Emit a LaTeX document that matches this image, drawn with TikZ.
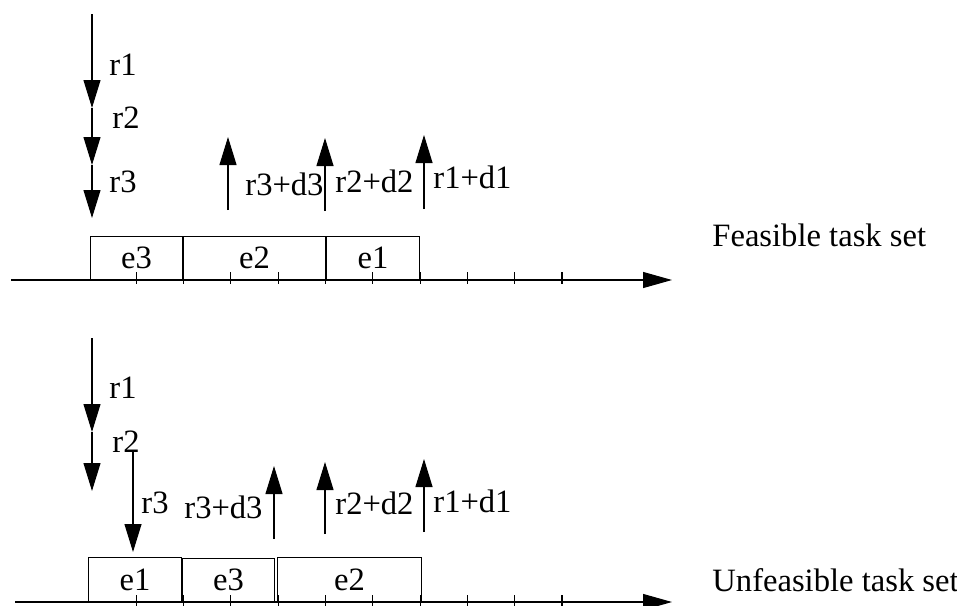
\documentclass[tikz,border=0pt]{standalone}
\usepackage{fontspec}
\setmainfont{Liberation Serif}
\usetikzlibrary{arrows.meta}
\newcommand{\labfont}{\fontsize{16.3}{19}\selectfont}
\begin{document}
\begin{tikzpicture}[x=0.5pt,y=-0.5pt,
  ln/.style={line width=0.55pt},
  tipped/.style={ln,-{Triangle[length=14pt,width=8.5pt]}},
  axisarrow/.style={ln,-{Triangle[length=14.5pt,width=8pt]}},
  taskbox/.style={draw,ln,inner sep=0pt,anchor=south west,font=\labfont,minimum height=21.5pt},
  lbl/.style={inner sep=0pt,anchor=base west,font=\labfont}]
\useasboundingbox (0,0) rectangle (957,605);

% ---------- Feasible ----------
\coordinate (ta0) at (11,280);
\coordinate (ta1) at (672,280);
\draw[axisarrow] (ta0) -- (ta1);
\foreach \k in {1,...,10}{
  \draw[ln] ({89+47.3*\k},272) -- ({89+47.3*\k},284);
}
\node[taskbox,minimum width=46pt] (te3) at (90,280) {e3};
\node[taskbox,minimum width=71pt] (te2) at (183,280) {e2};
\node[taskbox,minimum width=46.5pt] (te1) at (326,280) {e1};

\coordinate (td0) at (92,14);
\coordinate (td1) at (92,108);
\coordinate (td2) at (92,165);
\coordinate (td3) at (92,218);
\draw[tipped] (td0) -- (td1);
\draw[tipped] (td1) -- (td2);
\draw[tipped] (td2) -- (td3);
\node[lbl] (tr1) at (109,75) {r1};
\node[lbl] (tr2) at (112,128) {r2};
\node[lbl] (tr3) at (109,192) {r3};

\coordinate (tu1s) at (228,210); \coordinate (tu1t) at (228,137);
\coordinate (tu2s) at (325,211); \coordinate (tu2t) at (325,138);
\coordinate (tu3s) at (424,209); \coordinate (tu3t) at (424,135);
\draw[tipped] (tu1s) -- (tu1t);
\draw[tipped] (tu2s) -- (tu2t);
\draw[tipped] (tu3s) -- (tu3t);
\node[lbl] (tl3) at (245,195) {r3+d3};
\node[lbl] (tl2) at (335,192) {r2+d2};
\node[lbl] (tl1) at (433,188) {r1+d1};

\node[lbl] (feas) at (712,246) {Feasible task set};

% ---------- Unfeasible ----------
\coordinate (ba0) at (15,602);
\coordinate (ba1) at (672,602);
\draw[axisarrow] (ba0) -- (ba1);
\foreach \k in {1,...,10}{
  \draw[ln] ({89+47.3*\k},595) -- ({89+47.3*\k},607);
}
\node[taskbox,minimum width=46.5pt,minimum height=22pt] (be1) at (88,602) {e1};
\node[taskbox,minimum width=46pt,minimum height=21.5pt] (be3) at (182,602) {e3};
\node[taskbox,minimum width=72pt,minimum height=22pt] (be2) at (277,602) {e2};

\coordinate (bd0) at (92,338);
\coordinate (bd1) at (92,432);
\coordinate (bd2) at (92,491);
\draw[tipped] (bd0) -- (bd1);
\draw[tipped] (bd1) -- (bd2);
\coordinate (bd3s) at (133,452);
\coordinate (bd3t) at (133,552);
\draw[tipped] (bd3s) -- (bd3t);
\node[lbl] (br1) at (109,398) {r1};
\node[lbl] (br2) at (112,452) {r2};
\node[lbl] (br3) at (141,513) {r3};

\coordinate (bu1s) at (274,539); \coordinate (bu1t) at (274,466);
\coordinate (bu2s) at (325,534); \coordinate (bu2t) at (325,462);
\coordinate (bu3s) at (424,532); \coordinate (bu3t) at (424,459);
\draw[tipped] (bu1s) -- (bu1t);
\draw[tipped] (bu2s) -- (bu2t);
\draw[tipped] (bu3s) -- (bu3t);
\node[lbl] (bl3) at (184,518) {r3+d3};
\node[lbl] (bl2) at (335,514) {r2+d2};
\node[lbl] (bl1) at (433,512) {r1+d1};

\node[lbl] (unfeas) at (712,591) {Unfeasible task set};
\end{tikzpicture}
\end{document}
